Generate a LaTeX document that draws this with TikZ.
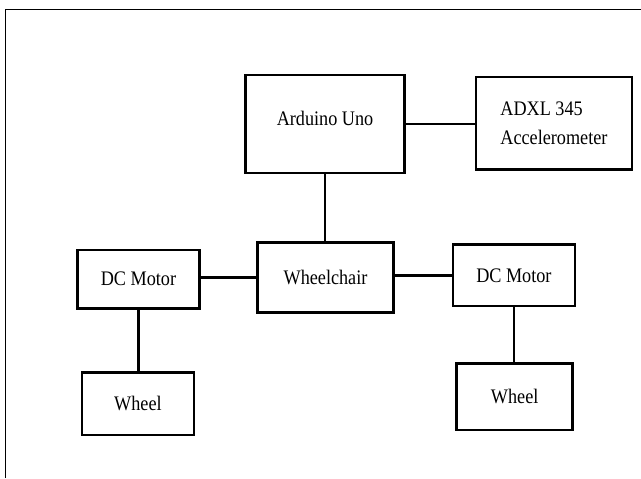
\documentclass[tikz,border=0pt]{standalone}
\usepackage{fontspec}
\setmainfont{Liberation Serif}[FakeStretch=0.88]
\usepackage{tikz}
\usetikzlibrary{calc}

\begin{document}
\begin{tikzpicture}[x=0.75pt, y=-0.75pt,
        block/.style={draw, rectangle, line width=1.9pt, inner sep=0pt,
            font=\fontsize{15.5}{22}\selectfont},
        link/.style={line width=2.1pt},
        frame/.style={line width=0.8pt}]
            \useasboundingbox (0,0) rectangle (641,478);

            %--- page frame (only top and left edges show)
            \draw[frame] (5.3,478) |- (641,9.3);

            %--- controller row
            \node[block, minimum width=118.9pt, minimum height=73.5pt,
                  text height=10.5pt, text depth=9pt] (uno) at (325,124) {Arduino Uno};
            \node[block, minimum width=116.8pt, minimum height=69.2pt, align=left]
                  (adxl) at (553.9,123.2) {ADXL 345\\Accelerometer};

            %--- drive row
            \node[block, minimum width=101.7pt, minimum height=52.8pt] (chair) at (325.5,277.5) {Wheelchair};
            \node[block, minimum width=91.2pt, minimum height=43.7pt] (dcleft) at (138.5,279.2) {DC Motor};
            \node[block, minimum width=91.7pt, minimum height=46pt] (dcright) at (513.9,275.3) {DC Motor};

            %--- wheels
            \node[block, minimum width=84.2pt, minimum height=47pt] (wheelleft) at (137.9,403.7) {Wheel};
            \node[block, minimum width=87pt, minimum height=50pt] (wheelright) at (514.7,396.7) {Wheel};

            %--- links
            \draw[link] (uno.east) -- (uno.east -| adxl.west);
            \draw[link] (uno.south) -- (uno.south |- chair.north);
            \draw[link] (chair.west) -- (chair.west -| dcleft.east);
            \draw[link] (dcright.west) -- (dcright.west -| chair.east);
            \draw[link] (dcleft.south) -- (dcleft.south |- wheelleft.north);
            \draw[link] (dcright.south) -- (dcright.south |- wheelright.north);
        \end{tikzpicture}
\end{document}
